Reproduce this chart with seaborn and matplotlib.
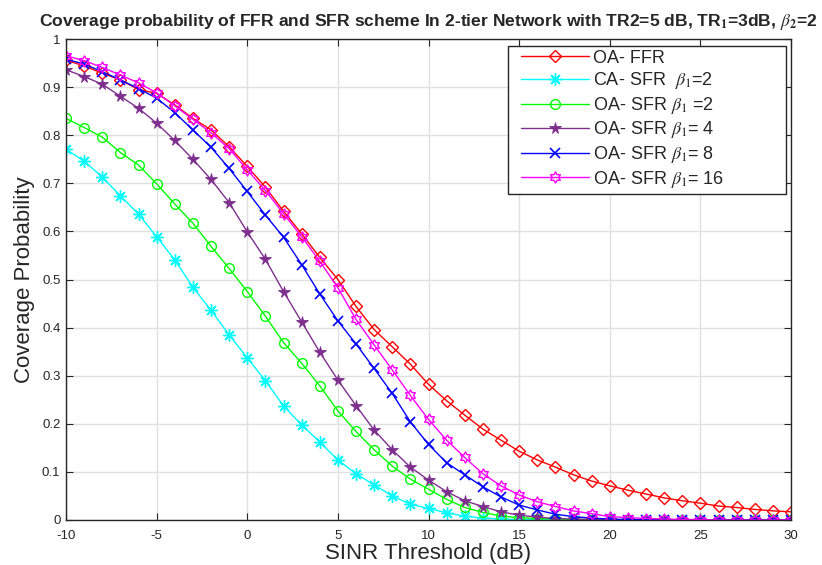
import numpy as np
import pandas as pd
import matplotlib
matplotlib.use("Agg")
import matplotlib.pyplot as plt
from matplotlib.path import Path
from matplotlib.patches import Rectangle
import seaborn as sns

sinr_db = list(range(-10, 31))

oa_ffr = [0.956, 0.944, 0.929, 0.915, 0.895, 0.887, 0.863, 0.835, 0.811, 0.776,
          0.735, 0.692, 0.642, 0.595, 0.546, 0.500, 0.444, 0.396, 0.360, 0.324,
          0.282, 0.248, 0.218, 0.189, 0.166, 0.143, 0.125, 0.110, 0.094, 0.081,
          0.071, 0.062, 0.054, 0.046, 0.040, 0.035, 0.029, 0.026, 0.022, 0.019, 0.017]
ca_sfr_b2 = [0.771, 0.746, 0.713, 0.674, 0.636, 0.589, 0.541, 0.484, 0.436, 0.385,
             0.337, 0.290, 0.237, 0.198, 0.162, 0.125, 0.096, 0.073, 0.050, 0.033,
             0.024, 0.015, 0.008, 0.004, 0.002, 0.001, 0.001, 0.0, 0.0, 0.0,
             0.0, 0.0, 0.0, 0.0, 0.0, 0.0, 0.0, 0.0, 0.0, 0.0, 0.0]
oa_sfr_b2 = [0.835, 0.816, 0.796, 0.764, 0.738, 0.699, 0.657, 0.617, 0.569, 0.523,
             0.475, 0.424, 0.369, 0.326, 0.279, 0.227, 0.184, 0.146, 0.112, 0.085,
             0.064, 0.043, 0.026, 0.016, 0.008, 0.005, 0.003, 0.002, 0.001, 0.001,
             0.0, 0.0, 0.0, 0.0, 0.0, 0.0, 0.0, 0.0, 0.0, 0.0, 0.0]
oa_sfr_b4 = [0.936, 0.922, 0.906, 0.881, 0.856, 0.825, 0.789, 0.750, 0.708, 0.660,
             0.599, 0.542, 0.475, 0.412, 0.349, 0.291, 0.238, 0.187, 0.146, 0.110,
             0.083, 0.059, 0.040, 0.028, 0.017, 0.010, 0.006, 0.003, 0.002, 0.001,
             0.001, 0.0, 0.0, 0.0, 0.0, 0.0, 0.0, 0.0, 0.0, 0.0, 0.0]
oa_sfr_b8 = [0.958, 0.948, 0.932, 0.915, 0.897, 0.877, 0.847, 0.811, 0.775, 0.731,
             0.683, 0.634, 0.588, 0.531, 0.470, 0.414, 0.366, 0.315, 0.263, 0.204,
             0.157, 0.119, 0.094, 0.069, 0.048, 0.031, 0.021, 0.012, 0.007, 0.004,
             0.002, 0.001, 0.001, 0.0, 0.0, 0.0, 0.0, 0.0, 0.0, 0.0, 0.0]
oa_sfr_b16 = [0.965, 0.955, 0.941, 0.925, 0.909, 0.888, 0.861, 0.833, 0.805, 0.772,
              0.728, 0.685, 0.637, 0.589, 0.538, 0.483, 0.417, 0.364, 0.312, 0.259,
              0.209, 0.166, 0.130, 0.096, 0.071, 0.052, 0.038, 0.028, 0.019, 0.013,
              0.007, 0.005, 0.003, 0.002, 0.001, 0.001, 0.0, 0.0, 0.0, 0.0, 0.0]

series_labels = ["OA- FFR",
                 r"CA- SFR  $\beta_1$=2",
                 r"OA- SFR $\beta_1$ =2",
                 r"OA- SFR $\beta_1$= 4",
                 r"OA- SFR $\beta_1$= 8",
                 r"OA- SFR $\beta_1$= 16"]
series_values = [oa_ffr, ca_sfr_b2, oa_sfr_b2, oa_sfr_b4, oa_sfr_b8, oa_sfr_b16]

x_ticks = [-10, -5, 0, 5, 10, 15, 20, 25, 30]
y_ticks = [0, 0.1, 0.2, 0.3, 0.4, 0.5, 0.6, 0.7, 0.8, 0.9, 1]
y_tick_labels = ["0", "0.1", "0.2", "0.3", "0.4", "0.5", "0.6", "0.7", "0.8", "0.9", "1"]

# hexagram marker (Star of David)
ang_out = np.deg2rad(90 + np.arange(6) * 60)
ang_in = ang_out + np.deg2rad(30)
r_in = 1 / np.sqrt(3)
verts = []
for ao, ai in zip(ang_out, ang_in):
    verts.append((np.cos(ao), np.sin(ao)))
    verts.append((r_in * np.cos(ai), r_in * np.sin(ai)))
verts.append(verts[0])
codes = [Path.MOVETO] + [Path.LINETO] * (len(verts) - 2) + [Path.CLOSEPOLY]
hexagram = Path(verts, codes)

styles = [
    dict(color="#ff0000", marker="D", ms=6.5, mfc="none", mew=1.0),
    dict(color="#00ffff", marker=(8, 2, 0), ms=9.0, mfc="none", mew=1.0),
    dict(color="#00ff00", marker="o", ms=7.0, mfc="none", mew=1.0),
    dict(color="#7e2f8e", marker="*", ms=8.5, mew=0.6),
    dict(color="#0000ff", marker="x", ms=7.5, mew=1.2),
    dict(color="#ff00ff", marker=hexagram, ms=8.0, mfc="none", mew=1.0),
]

sns.set_style("white")
plt.rcParams["font.family"] = ["Liberation Sans", "DejaVu Sans"]
plt.rcParams["mathtext.fontset"] = "stix"

fig = plt.figure(figsize=(8.22, 5.65), dpi=100)
ax = fig.add_axes([66 / 822, 1 - 520 / 565, (791 - 66) / 822, (520 - 39) / 565])

for lab, vals, st in zip(series_labels, series_values, styles):
    df = pd.DataFrame({"SINR": sinr_db, "P": vals})
    sns.lineplot(data=df, x="SINR", y="P", ax=ax, label=lab, linewidth=1.0,
                 color=st["color"], marker=st["marker"], markersize=st["ms"],
                 markerfacecolor=st.get("mfc", st["color"]),
                 markeredgecolor=st["color"], markeredgewidth=st["mew"])

ax.set_xlim(-10, 30)
ax.set_ylim(0, 1)
ax.set_xticks(x_ticks)
ax.set_xticklabels([str(t) for t in x_ticks])
ax.set_yticks(y_ticks)
ax.set_yticklabels(y_tick_labels)
ax.grid(True, color="#e0e0e0", linewidth=1.0)
ax.set_axisbelow(True)
for s in ax.spines.values():
    s.set_visible(True)
    s.set_color("#262626")
    s.set_linewidth(1.0)
ax.tick_params(direction="in", length=5, width=0.8, top=True, right=True,
               bottom=True, left=True, labelsize=9.5, colors="#262626",
               labelcolor="#262626")
ax.tick_params(axis="x", pad=7)
ax.tick_params(axis="y", pad=4)

ax.set_xlabel("SINR Threshold (dB)", fontsize=16, color="#262626", labelpad=1)
ax.set_ylabel("Coverage Probability", fontsize=16, color="#262626", labelpad=5)
ax.set_title(r"Coverage probability of FFR and SFR scheme In 2-tier Network with TR2=5 dB, TR$_{\mathbf{1}}$=3dB, $\beta_{\mathbf{2}}$=2",
             fontsize=12.6, fontweight="bold", pad=9)

leg = ax.legend(loc="upper left", bbox_to_anchor=(517 / 822, 1 - 46 / 565),
                bbox_transform=fig.transFigure, fontsize=13, frameon=False,
                handlelength=3.8, handletextpad=0.2, labelspacing=0.2,
                borderpad=0.2, borderaxespad=0)
# legend frame as MATLAB draws it (extra room on the right)
frame = Rectangle((508 / 822, 1 - 194 / 565), (786 - 508) / 822, (194 - 46) / 565,
                  transform=fig.transFigure, facecolor="white", edgecolor="#262626",
                  linewidth=1.0, zorder=4)
fig.add_artist(frame)
leg.set_zorder(5)
leg.remove()
fig.add_artist(leg)

fig.savefig("out.png", dpi=100)
